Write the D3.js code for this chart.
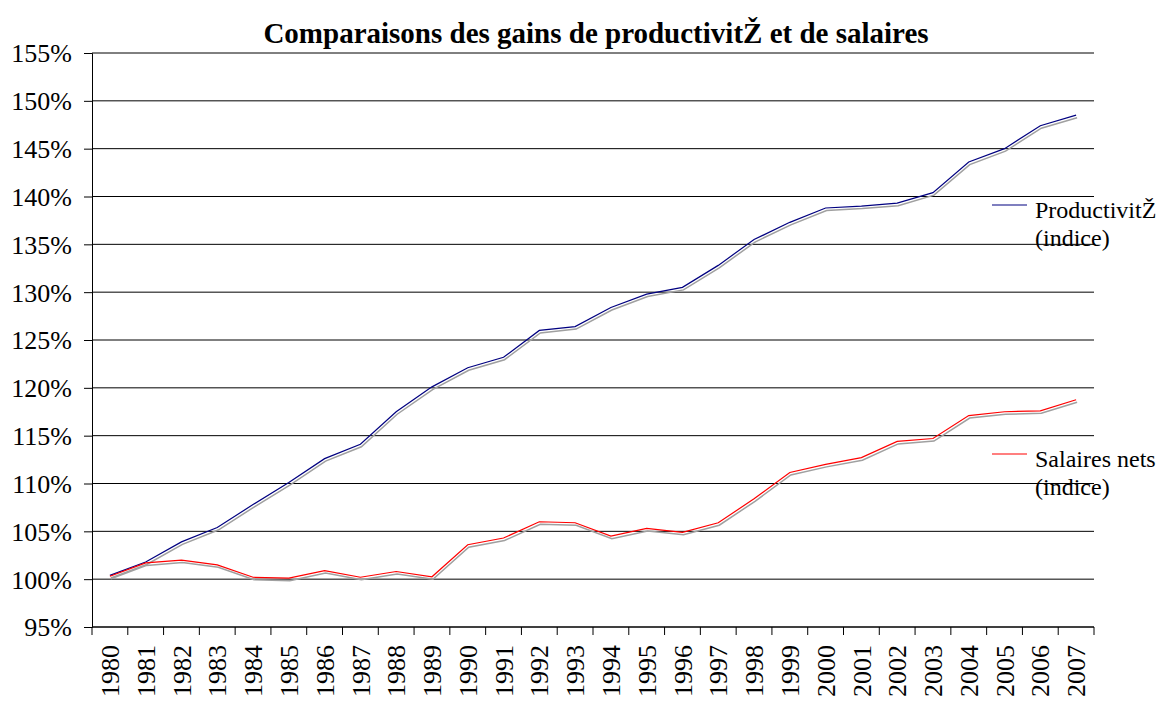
<!DOCTYPE html>
<html>
<head>
<meta charset="utf-8">
<script src="https://cdn.jsdelivr.net/npm/d3@7"></script>
<style>
  body { margin: 0; background: #fff; }
  text { font-family: "Liberation Serif", "Times New Roman", serif; fill: #000; }
</style>
</head>
<body>
<script>
// Index values, in % of 1980
const years = [1980, 1981, 1982, 1983, 1984, 1985, 1986, 1987, 1988, 1989,
  1990, 1991, 1992, 1993, 1994, 1995, 1996, 1997, 1998, 1999,
  2000, 2001, 2002, 2003, 2004, 2005, 2006, 2007]

const productivite = [100.4, 101.8, 103.9, 105.4, 107.8, 110.1, 112.6, 114.1, 117.5, 120.1,
  122.1, 123.2, 126.0, 126.4, 128.4, 129.8, 130.5, 132.8, 135.5, 137.3,
  138.8, 139.0, 139.3, 140.4, 143.6, 145.0, 147.4, 148.5]

const salaires = [100.3, 101.7, 102.0, 101.5, 100.2, 100.1, 100.9, 100.2, 100.8, 100.25,
  103.6, 104.3, 106.0, 105.9, 104.5, 105.3, 104.9, 105.9, 108.4, 111.15,
  112.0, 112.7, 114.4, 114.7, 117.1, 117.5, 117.6, 118.75]

const yTicks = [95, 100, 105, 110, 115, 120, 125, 130, 135, 140, 145, 150, 155]

const title = 'Comparaisons des gains de productivitŽ et de salaires'

const series = [
  { name: ['ProductivitŽ', '(indice)'], values: productivite, color: '#000080' },
  { name: ['Salaires nets', '(indice)'], values: salaires, color: '#ff0000' }
]

const WIDTH = 1176
const HEIGHT = 702
const plot = { left: 92, right: 1094, top: 53, bottom: 627 }

const svg = d3.select('body')
  .append('svg')
  .attr('width', WIDTH)
  .attr('height', HEIGHT)

const x = d3.scaleBand()
  .domain(years)
  .range([plot.left, plot.right])
  .padding(0)

const y = d3.scaleLinear()
  .domain([95, 155])
  .range([plot.bottom, plot.top])

// Title
svg.append('text')
  .attr('x', (plot.left + plot.right) / 2 + 3)
  .attr('y', 43)
  .attr('text-anchor', 'middle')
  .style('font-size', '29px')
  .style('font-weight', 'bold')
  .text(title)

// Gridlines
svg.append('g')
  .selectAll('line')
  .data(yTicks)
  .join('line')
  .attr('x1', plot.left)
  .attr('x2', plot.right)
  .attr('y1', d => y(d))
  .attr('y2', d => y(d))
  .attr('stroke', '#000')
  .attr('stroke-width', 1)

// Y axis
const yAxis = svg.append('g')
  .attr('transform', `translate(${plot.left},0)`)
  .call(d3.axisLeft(y).tickValues(yTicks).tickSize(8).tickPadding(12).tickFormat(d => d + '%'))

yAxis.select('.domain').attr('stroke', '#000')
yAxis.selectAll('.tick line').attr('stroke', '#000')
yAxis.selectAll('.tick text')
  .style('font-size', '26px')
  .style('font-family', '"Liberation Serif", "Times New Roman", serif')
  .attr('dy', '0.34em')

// X axis: ticks sit on the band edges
const xAxis = svg.append('g')
  .attr('transform', `translate(0,${plot.bottom})`)

xAxis.append('line')
  .attr('x1', plot.left)
  .attr('x2', plot.right)
  .attr('stroke', '#000')

const edges = years.map(d => x(d)).concat([plot.right])
xAxis.selectAll('line.tick')
  .data(edges)
  .join('line')
  .attr('class', 'tick')
  .attr('x1', d => d)
  .attr('x2', d => d)
  .attr('y1', 0)
  .attr('y2', 8)
  .attr('stroke', '#000')

xAxis.selectAll('text')
  .data(years)
  .join('text')
  .attr('transform', d => `translate(${x(d) + x.bandwidth() / 2},18) rotate(-90)`)
  .attr('text-anchor', 'end')
  .attr('dy', '0.35em')
  .style('font-size', '26px')
  .text(d => d)

const line = d3.line()
  .x((d, i) => x(years[i]) + x.bandwidth() / 2)
  .y(d => y(d))

// Shadows first, then the coloured lines
series.forEach(s => {
  svg.append('path')
    .datum(s.values)
    .attr('d', line)
    .attr('fill', 'none')
    .attr('stroke', '#a0a0a0')
    .attr('stroke-width', 1.5)
    .attr('transform', 'translate(1,2.5)')
})

series.forEach(s => {
  svg.append('path')
    .datum(s.values)
    .attr('d', line)
    .attr('fill', 'none')
    .attr('stroke', s.color)
    .attr('stroke-width', 1.2)
})

// Legend, placed beside the end of each line
const legendY = [205, 454]
series.forEach((s, i) => {
  const g = svg.append('g').attr('transform', `translate(992,${legendY[i]})`)
  g.append('line')
    .attr('x1', 0)
    .attr('x2', 35)
    .attr('stroke', s.color)
    .attr('stroke-width', 1.2)
  g.selectAll('text')
    .data(s.name)
    .join('text')
    .attr('x', 43)
    .attr('y', (d, j) => 13 + j * 28)
    .style('font-size', '24px')
    .text(d => d)
})
</script>
</body>
</html>
